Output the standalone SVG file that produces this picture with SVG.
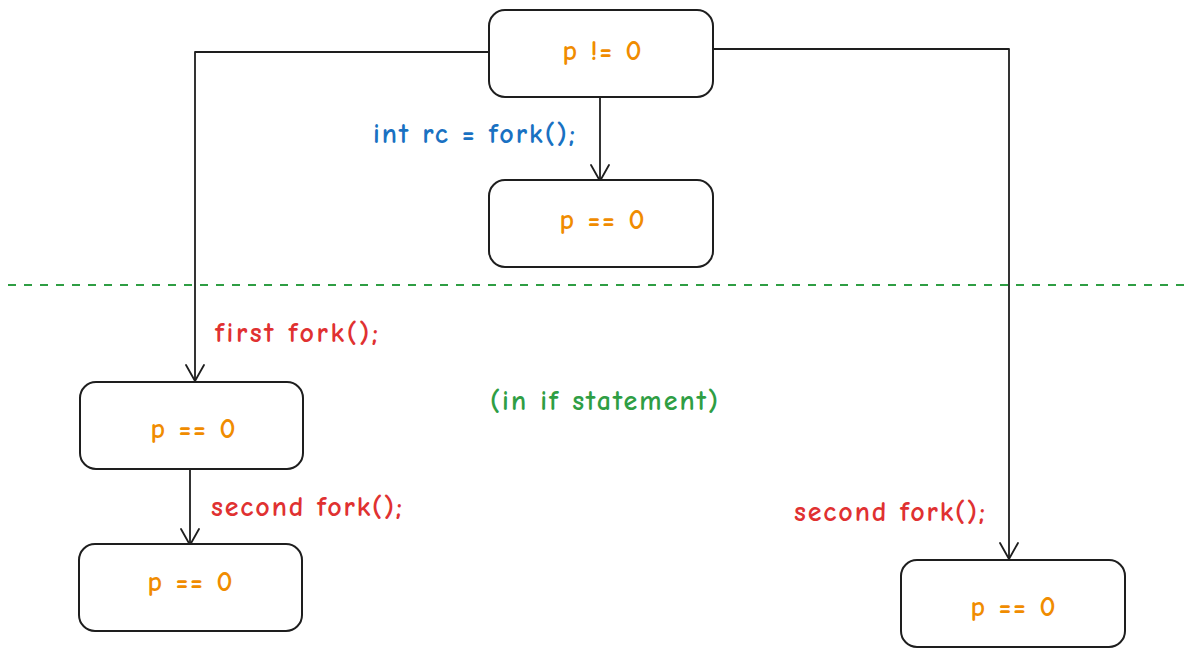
<svg xmlns="http://www.w3.org/2000/svg" width="1201" height="657" viewBox="0 0 1201 657">
<defs>
<marker id="arr" viewBox="0 0 20 20" refX="18" refY="10" markerWidth="20" markerHeight="20" markerUnits="userSpaceOnUse" orient="auto">
<path d="M2,1 L18,10 L2,19" fill="none" stroke="#1e1e1e" stroke-width="1.8" stroke-linecap="round" stroke-linejoin="round"/>
</marker>
<style>
.box{fill:#ffffff;stroke:#1e1e1e;stroke-width:2}
.t{font-family:"Comic Neue","Liberation Sans","Noto Sans",sans-serif;font-size:28px;font-weight:bold;text-anchor:middle;dominant-baseline:central}
.or{fill:#f08c00}
.bl{fill:#1971c2}
.rd{fill:#e03131}
.gr{fill:#2f9e44}
.c{fill:none;stroke:#1e1e1e;stroke-width:1.8;stroke-linecap:round;stroke-linejoin:round}
</style>
</defs>
<rect width="1201" height="657" fill="#ffffff"/>
<line x1="8" y1="285" x2="1192" y2="285" stroke="#2f9e44" stroke-width="2" stroke-dasharray="8,8"/>
<g id="connectors">
<polyline class="c" points="489,52 195,52 195,381" marker-end="url(#arr)"/>
<polyline class="c" points="714,49 1009,49 1009,559" marker-end="url(#arr)"/>
<line class="c" x1="600" y1="97" x2="600" y2="181" marker-end="url(#arr)"/>
<line class="c" x1="190" y1="469" x2="190" y2="545" marker-end="url(#arr)"/>
</g>
<g id="n1"><rect class="box" x="489" y="10" width="224" height="87" rx="16"/><text class="t or" x="602" y="51" textLength="79" lengthAdjust="spacing">p != 0</text></g>
<g id="n2"><rect class="box" x="489" y="180" width="224" height="87" rx="16"/><text class="t or" x="602" y="220" textLength="85" lengthAdjust="spacing">p == 0</text></g>
<g id="n3"><rect class="box" x="80" y="382" width="223" height="87" rx="16"/><text class="t or" x="193" y="429" textLength="85" lengthAdjust="spacing">p == 0</text></g>
<g id="n4"><rect class="box" x="79" y="544" width="223" height="87" rx="16"/><text class="t or" x="190" y="582" textLength="85" lengthAdjust="spacing">p == 0</text></g>
<g id="n5"><rect class="box" x="901" y="560" width="224" height="87" rx="16"/><text class="t or" x="1013" y="607" textLength="85" lengthAdjust="spacing">p == 0</text></g>
<g id="labels">
<text class="t bl" x="474" y="134" textLength="202" lengthAdjust="spacing">int rc = fork();</text>
<text class="t rd" x="296.5" y="333" textLength="163" lengthAdjust="spacing">first fork();</text>
<text class="t gr" x="604" y="401" textLength="228" lengthAdjust="spacing">(in if statement)</text>
<text class="t rd" x="306.5" y="507" textLength="191" lengthAdjust="spacing">second fork();</text>
<text class="t rd" x="889.5" y="512" textLength="191" lengthAdjust="spacing">second fork();</text>
</g>
</svg>
